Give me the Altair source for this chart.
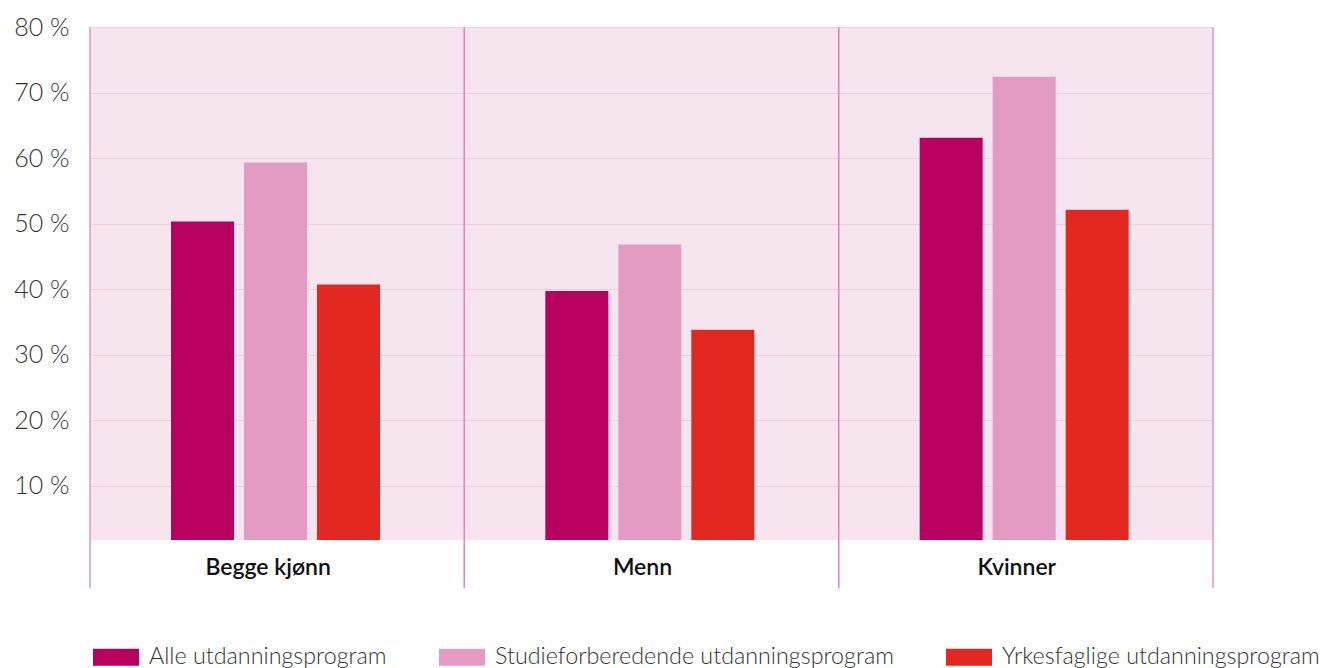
import altair as alt
import pandas as pd

# Share of pupils (%) by gender and education programme
categories = ["Begge kjønn", "Menn", "Kvinner"]
series = [
    "Alle utdanningsprogram",
    "Studieforberedende utdanningsprogram",
    "Yrkesfaglige utdanningsprogram",
]
alle = [50.3, 39.7, 63.1]
studie = [59.3, 46.8, 72.4]
yrkes = [40.7, 33.8, 52.1]
y_ticks = [10, 20, 30, 40, 50, 60, 70, 80]
colors = ["#b8005e", "#e39bc4", "#e32822"]

rows = []
for vals, name in zip([alle, studie, yrkes], series):
    for cat, v in zip(categories, vals):
        rows.append({"kategori": cat, "program": name, "andel": v})
df = pd.DataFrame(rows)
cats_df = pd.DataFrame({"kategori": categories})

W, H = 1123, 513
FONT = "Lato"

x_scale = alt.Scale(domain=categories, paddingInner=0, paddingOuter=0)

bars = alt.Chart(df).mark_bar(clip=True).encode(
    x=alt.X(
        "kategori:N",
        scale=x_scale,
        sort=categories,
        axis=alt.Axis(
            title=None,
            domain=False,
            ticks=False,
            tickSize=0,
            labelAngle=0,
            labelFont=FONT,
            labelFontSize=23,
            labelFontWeight=600,
            labelColor="#111111",
            labelBaseline="alphabetic",
            labelPadding=34,
            labelOffset=-9,
        ),
    ),
    xOffset=alt.XOffset(
        "program:N",
        sort=series,
        scale=alt.Scale(range=[81, 290], paddingInner=0.137, paddingOuter=0),
    ),
    y=alt.Y(
        "andel:Q",
        scale=alt.Scale(domain=[1.7, 80], zero=False, nice=False),
        axis=alt.Axis(
            title=None,
            values=y_ticks,
            domain=False,
            ticks=False,
            tickSize=0,
            labelPadding=21,
            labelFont=FONT,
            labelFontSize=25,
            labelFontWeight=300,
            labelColor="#333333",
            labelExpr="datum.value + ' %'",
            grid=True,
            gridColor="#f0cde0",
            gridWidth=1,
        ),
    ),
    color=alt.Color(
        "program:N",
        sort=series,
        scale=alt.Scale(domain=series, range=colors),
        legend=alt.Legend(
            title=None,
            orient="none",
            legendX=3,
            legendY=607,
            direction="horizontal",
            symbolType="M-1,-0.37H1V0.37H-1Z",
            symbolSize=2116,
            symbolStrokeWidth=0,
            symbolOpacity=1,
            labelFont=FONT,
            labelFontSize=23.3,
            labelFontWeight=300,
            labelColor="#333333",
            labelLimit=0,
            labelOffset=10,
            columnPadding=52,
        ),
    ),
)

# Vertical dividers between the groups, running down past the label band
div_left = alt.Chart(cats_df).mark_rule(color="#e384b8", strokeWidth=1.3).encode(
    x=alt.X("kategori:N", scale=x_scale, sort=categories, bandPosition=0),
    y=alt.value(0),
    y2=alt.value(H + 48),
)
div_right = alt.Chart(cats_df).mark_rule(color="#e384b8", strokeWidth=1.3).encode(
    x=alt.X("kategori:N", scale=x_scale, sort=categories, bandPosition=1),
    y=alt.value(0),
    y2=alt.value(H + 48),
)

chart = (
    alt.layer(bars, div_left, div_right)
    .properties(
        width=W,
        height=H,
        autosize=alt.AutoSizeParams(type="none"),
        padding={"left": 90, "top": 27, "right": 108, "bottom": 128},
    )
    .configure(background="white")
    .configure_view(fill="#f6e4ef", strokeWidth=0)
)

chart.save("out.html", embed_options={"renderer": "svg", "actions": False})
